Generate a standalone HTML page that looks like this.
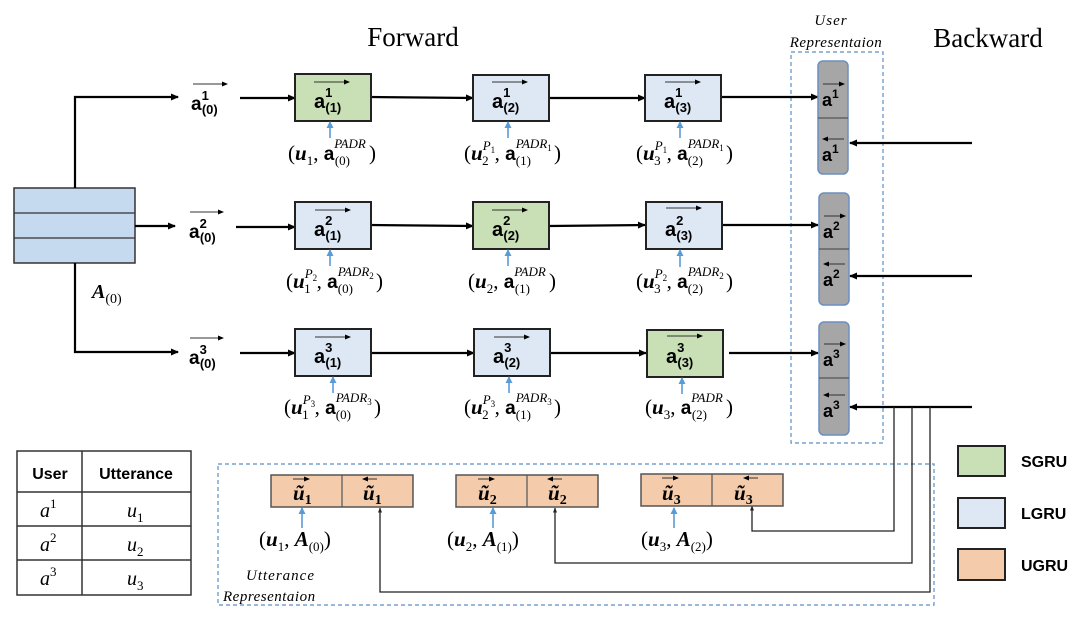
<!DOCTYPE html>
<html><head><meta charset="utf-8"><style>
body{margin:0;background:#fff}
svg{display:block}
.s{font-family:"Liberation Serif",serif}
.b{font-family:"Liberation Sans",sans-serif;font-weight:bold}
</style></head><body>
<svg width="1080" height="617" viewBox="0 0 1080 617" xmlns="http://www.w3.org/2000/svg">
<defs>
<marker id="ah" markerWidth="8" markerHeight="8" refX="7" refY="4" orient="auto" markerUnits="userSpaceOnUse"><path d="M0,0.5 L8,4 L0,7.5z" fill="#000"/></marker>
<marker id="as" markerWidth="6" markerHeight="6" refX="5" refY="3" orient="auto" markerUnits="userSpaceOnUse"><path d="M0,0.5 L6,3 L0,5.5z" fill="#000"/></marker>
<marker id="ab" markerWidth="7" markerHeight="7" refX="6" refY="3.5" orient="auto" markerUnits="userSpaceOnUse"><path d="M0,0 L7,3.5 L0,7z" fill="#5b9bd5"/></marker>
<marker id="sm" markerWidth="5" markerHeight="5" refX="4.5" refY="2.5" orient="auto" markerUnits="userSpaceOnUse"><path d="M0,0.5 L5,2.5 L0,4.5z" fill="#222"/></marker>
</defs>

<text x="413" y="46" class="s" font-size="27" text-anchor="middle">Forward</text>
<text x="988" y="47" class="s" font-size="27" text-anchor="middle">Backward</text>
<text x="831" y="25" class="s" font-size="15" font-style="italic" text-anchor="middle" letter-spacing="1">User</text>
<text x="836" y="47" class="s" font-size="15" font-style="italic" text-anchor="middle" letter-spacing="0.5">Representaion</text>

<rect x="791" y="52" width="92" height="391" fill="none" stroke="#5b8fc7" stroke-width="1.2" stroke-dasharray="4,3"/>
<rect x="218" y="464" width="716" height="141" fill="none" stroke="#5b8fc7" stroke-width="1.2" stroke-dasharray="4,3"/>

<rect x="14" y="188" width="121" height="75" fill="#c5d9ef" stroke="#333" stroke-width="1.5"/>
<line x1="14" y1="213" x2="135" y2="213" stroke="#333" stroke-width="1.2"/>
<line x1="14" y1="238" x2="135" y2="238" stroke="#333" stroke-width="1.2"/>
<text x="92" y="298" class="s" font-size="20" font-style="italic" font-weight="bold">A<tspan font-size="14" font-weight="normal" font-style="normal" dy="5">(0)</tspan></text>

<g stroke="#000" stroke-width="2.2" fill="none">
<polyline points="75,188 75,97 178,97" marker-end="url(#ah)"/>
<polyline points="135,226 175,226" marker-end="url(#ah)"/>
<polyline points="75,263 75,352 178,352" marker-end="url(#ah)"/>
<line x1="240" y1="98" x2="295" y2="98" marker-end="url(#ah)"/>
<line x1="236" y1="227" x2="295" y2="227" marker-end="url(#ah)"/>
<line x1="240" y1="353" x2="295" y2="353" marker-end="url(#ah)"/>
<line x1="371" y1="97" x2="473" y2="98" marker-end="url(#ah)"/>
<line x1="371" y1="225" x2="473" y2="226" marker-end="url(#ah)"/>
<line x1="371" y1="353" x2="474" y2="353" marker-end="url(#ah)"/>
<line x1="549" y1="98" x2="645" y2="98" marker-end="url(#ah)"/>
<line x1="549" y1="226" x2="645" y2="225" marker-end="url(#ah)"/>
<line x1="549" y1="353" x2="646" y2="353" marker-end="url(#ah)"/>
<line x1="721" y1="97" x2="818" y2="97" marker-end="url(#ah)"/>
<line x1="722" y1="225" x2="818" y2="225" marker-end="url(#ah)"/>
<line x1="729" y1="353" x2="818" y2="353" marker-end="url(#ah)"/>
<line x1="972" y1="143" x2="850" y2="143" marker-end="url(#ah)"/>
<line x1="972" y1="276" x2="850" y2="276" marker-end="url(#ah)"/>
<line x1="972" y1="407" x2="850" y2="407" marker-end="url(#ah)"/>
</g>
<g stroke="#222" stroke-width="1.3" fill="none">
<polyline points="894,407 894,531 752,531 752,506" marker-end="url(#sm)"/>
<polyline points="912,407 912,563 555,563 555,508" marker-end="url(#sm)"/>
<polyline points="930,407 930,592 380,592 380,508" marker-end="url(#sm)"/>
</g>

<g class="b" font-size="19">
<text x="191" y="110">a<tspan font-size="13" dy="-10">1</tspan><tspan font-size="13" dx="-7" dy="14">(0)</tspan></text>
<text x="189" y="238">a<tspan font-size="13" dy="-10">2</tspan><tspan font-size="13" dx="-7" dy="14">(0)</tspan></text>
<text x="189" y="364">a<tspan font-size="13" dy="-10">3</tspan><tspan font-size="13" dx="-7" dy="14">(0)</tspan></text>
</g>
<g stroke="#333" stroke-width="1" marker-end="url(#as)">
<line x1="193" y1="84" x2="227" y2="84"/>
<line x1="190" y1="212" x2="223" y2="212"/>
<line x1="190" y1="338" x2="223" y2="338"/>
</g>

<g stroke="#222" stroke-width="2">
<rect x="295" y="74" width="76" height="47" fill="#c9dfb6"/>
<rect x="473" y="75" width="76" height="46" fill="#dde8f4"/>
<rect x="645" y="75" width="76" height="46" fill="#dde8f4"/>
<rect x="295" y="202" width="76" height="47" fill="#dde8f4"/>
<rect x="473" y="202" width="76" height="47" fill="#c9dfb6"/>
<rect x="646" y="202" width="76" height="47" fill="#dde8f4"/>
<rect x="295" y="329" width="76" height="47" fill="#dde8f4"/>
<rect x="474" y="329" width="76" height="47" fill="#dde8f4"/>
<rect x="647" y="330" width="76" height="47" fill="#c9dfb6"/>
</g>
<g class="b" font-size="20">
<text x="314" y="108">a<tspan font-size="13" dy="-11">1</tspan><tspan font-size="13" dx="-7" dy="15">(1)</tspan></text>
<text x="492" y="108">a<tspan font-size="13" dy="-11">1</tspan><tspan font-size="13" dx="-7" dy="15">(2)</tspan></text>
<text x="664" y="108">a<tspan font-size="13" dy="-11">1</tspan><tspan font-size="13" dx="-7" dy="15">(3)</tspan></text>
<text x="314" y="236">a<tspan font-size="13" dy="-11">2</tspan><tspan font-size="13" dx="-7" dy="15">(1)</tspan></text>
<text x="492" y="236">a<tspan font-size="13" dy="-11">2</tspan><tspan font-size="13" dx="-7" dy="15">(2)</tspan></text>
<text x="665" y="236">a<tspan font-size="13" dy="-11">2</tspan><tspan font-size="13" dx="-7" dy="15">(3)</tspan></text>
<text x="314" y="363">a<tspan font-size="13" dy="-11">3</tspan><tspan font-size="13" dx="-7" dy="15">(1)</tspan></text>
<text x="493" y="363">a<tspan font-size="13" dy="-11">3</tspan><tspan font-size="13" dx="-7" dy="15">(2)</tspan></text>
<text x="666" y="363">a<tspan font-size="13" dy="-11">3</tspan><tspan font-size="13" dx="-7" dy="15">(3)</tspan></text>
</g>
<g stroke="#333" stroke-width="1" marker-end="url(#as)">
<line x1="314" y1="82" x2="349" y2="82"/>
<line x1="492" y1="82" x2="527" y2="82"/>
<line x1="665" y1="82" x2="700" y2="82"/>
<line x1="315" y1="210" x2="350" y2="210"/>
<line x1="492" y1="210" x2="527" y2="210"/>
<line x1="666" y1="208" x2="701" y2="208"/>
<line x1="315" y1="337" x2="350" y2="337"/>
<line x1="494" y1="337" x2="529" y2="337"/>
<line x1="667" y1="336" x2="702" y2="336"/>
</g>

<g stroke="#5b9bd5" stroke-width="1.6" marker-end="url(#ab)">
<line x1="330" y1="138" x2="330" y2="122"/>
<line x1="508" y1="138" x2="508" y2="122"/>
<line x1="680" y1="138" x2="680" y2="122"/>
<line x1="330" y1="266" x2="330" y2="250"/>
<line x1="508" y1="266" x2="508" y2="250"/>
<line x1="680" y1="267" x2="680" y2="250"/>
<line x1="333" y1="393" x2="333" y2="377"/>
<line x1="509" y1="393" x2="509" y2="377"/>
<line x1="682" y1="394" x2="682" y2="378"/>
<line x1="302" y1="528" x2="302" y2="508"/>
<line x1="493" y1="528" x2="493" y2="508"/>
<line x1="674" y1="528" x2="674" y2="508"/>
</g>

<g class="s" font-size="21">
<text x="288" y="160">(<tspan font-weight="bold" font-style="italic">u</tspan><tspan font-size="13" dy="5">1</tspan><tspan dy="-5">, </tspan><tspan class="b" font-size="19">a</tspan><tspan font-size="13" font-style="italic" dy="-12">PADR</tspan><tspan font-size="13" dx="-31" dy="17">(0)</tspan><tspan dx="19" dy="-5">)</tspan></text>
<text x="464" y="160">(<tspan font-weight="bold" font-style="italic">u</tspan><tspan font-size="13" font-style="italic" dy="-10">P</tspan><tspan font-size="9" dy="3">1</tspan><tspan font-size="13" dx="-13" dy="12">2</tspan><tspan dx="6" dy="-5">, </tspan><tspan class="b" font-size="19">a</tspan><tspan font-size="13" font-style="italic" dy="-12">PADR</tspan><tspan font-size="9" dy="3">1</tspan><tspan font-size="13" dx="-36" dy="14">(1)</tspan><tspan dx="23" dy="-5">)</tspan></text>
<text x="636" y="160">(<tspan font-weight="bold" font-style="italic">u</tspan><tspan font-size="13" font-style="italic" dy="-10">P</tspan><tspan font-size="9" dy="3">1</tspan><tspan font-size="13" dx="-13" dy="12">3</tspan><tspan dx="6" dy="-5">, </tspan><tspan class="b" font-size="19">a</tspan><tspan font-size="13" font-style="italic" dy="-12">PADR</tspan><tspan font-size="9" dy="3">1</tspan><tspan font-size="13" dx="-36" dy="14">(2)</tspan><tspan dx="23" dy="-5">)</tspan></text>

<text x="286" y="288">(<tspan font-weight="bold" font-style="italic">u</tspan><tspan font-size="13" font-style="italic" dy="-10">P</tspan><tspan font-size="9" dy="3">2</tspan><tspan font-size="13" dx="-13" dy="12">1</tspan><tspan dx="6" dy="-5">, </tspan><tspan class="b" font-size="19">a</tspan><tspan font-size="13" font-style="italic" dy="-12">PADR</tspan><tspan font-size="9" dy="3">2</tspan><tspan font-size="13" dx="-36" dy="14">(0)</tspan><tspan dx="23" dy="-5">)</tspan></text>
<text x="468" y="288">(<tspan font-weight="bold" font-style="italic">u</tspan><tspan font-size="13" dy="5">2</tspan><tspan dy="-5">, </tspan><tspan class="b" font-size="19">a</tspan><tspan font-size="13" font-style="italic" dy="-12">PADR</tspan><tspan font-size="13" dx="-31" dy="17">(1)</tspan><tspan dx="19" dy="-5">)</tspan></text>
<text x="636" y="288">(<tspan font-weight="bold" font-style="italic">u</tspan><tspan font-size="13" font-style="italic" dy="-10">P</tspan><tspan font-size="9" dy="3">2</tspan><tspan font-size="13" dx="-13" dy="12">3</tspan><tspan dx="6" dy="-5">, </tspan><tspan class="b" font-size="19">a</tspan><tspan font-size="13" font-style="italic" dy="-12">PADR</tspan><tspan font-size="9" dy="3">2</tspan><tspan font-size="13" dx="-36" dy="14">(2)</tspan><tspan dx="23" dy="-5">)</tspan></text>

<text x="284" y="414">(<tspan font-weight="bold" font-style="italic">u</tspan><tspan font-size="13" font-style="italic" dy="-10">P</tspan><tspan font-size="9" dy="3">3</tspan><tspan font-size="13" dx="-13" dy="12">1</tspan><tspan dx="6" dy="-5">, </tspan><tspan class="b" font-size="19">a</tspan><tspan font-size="13" font-style="italic" dy="-12">PADR</tspan><tspan font-size="9" dy="3">3</tspan><tspan font-size="13" dx="-36" dy="14">(0)</tspan><tspan dx="23" dy="-5">)</tspan></text>
<text x="464" y="414">(<tspan font-weight="bold" font-style="italic">u</tspan><tspan font-size="13" font-style="italic" dy="-10">P</tspan><tspan font-size="9" dy="3">3</tspan><tspan font-size="13" dx="-13" dy="12">2</tspan><tspan dx="6" dy="-5">, </tspan><tspan class="b" font-size="19">a</tspan><tspan font-size="13" font-style="italic" dy="-12">PADR</tspan><tspan font-size="9" dy="3">3</tspan><tspan font-size="13" dx="-36" dy="14">(1)</tspan><tspan dx="23" dy="-5">)</tspan></text>
<text x="645" y="414">(<tspan font-weight="bold" font-style="italic">u</tspan><tspan font-size="13" dy="5">3</tspan><tspan dy="-5">, </tspan><tspan class="b" font-size="19">a</tspan><tspan font-size="13" font-style="italic" dy="-12">PADR</tspan><tspan font-size="13" dx="-31" dy="17">(2)</tspan><tspan dx="19" dy="-5">)</tspan></text>
</g>

<g stroke="#6a8fc0" stroke-width="1.5" fill="#a6a6a6">
<rect x="818" y="61" width="30" height="113" rx="5"/>
<rect x="819" y="193" width="30" height="112" rx="5"/>
<rect x="819" y="322" width="30" height="113" rx="5"/>
</g>
<g stroke="#555" stroke-width="1.2">
<line x1="818" y1="118" x2="848" y2="118"/>
<line x1="819" y1="249" x2="849" y2="249"/>
<line x1="819" y1="378" x2="849" y2="378"/>
</g>
<g class="b" font-size="18">
<text x="822" y="106">a<tspan font-size="12" dy="-8">1</tspan></text>
<text x="822" y="161">a<tspan font-size="12" dy="-8">1</tspan></text>
<text x="823" y="238">a<tspan font-size="12" dy="-8">2</tspan></text>
<text x="823" y="286">a<tspan font-size="12" dy="-8">2</tspan></text>
<text x="823" y="366">a<tspan font-size="12" dy="-8">3</tspan></text>
<text x="823" y="417">a<tspan font-size="12" dy="-8">3</tspan></text>
</g>
<g stroke="#333" stroke-width="1">
<line x1="823" y1="84" x2="844" y2="84" marker-end="url(#as)"/>
<line x1="844" y1="139" x2="823" y2="139" marker-end="url(#as)"/>
<line x1="824" y1="216" x2="845" y2="216" marker-end="url(#as)"/>
<line x1="845" y1="264" x2="824" y2="264" marker-end="url(#as)"/>
<line x1="824" y1="344" x2="845" y2="344" marker-end="url(#as)"/>
<line x1="845" y1="395" x2="824" y2="395" marker-end="url(#as)"/>
</g>

<g stroke="#555" stroke-width="1.5" fill="#f4cbab">
<rect x="271" y="475" width="142" height="32"/>
<rect x="456" y="475" width="142" height="32"/>
<rect x="641" y="474" width="142" height="32"/>
</g>
<g stroke="#555" stroke-width="1.2">
<line x1="342" y1="475" x2="342" y2="507"/>
<line x1="527" y1="475" x2="527" y2="507"/>
<line x1="712" y1="474" x2="712" y2="506"/>
</g>
<g class="s" font-size="21" font-weight="bold" font-style="italic">
<text x="293" y="500">ũ<tspan font-size="14" font-style="normal" dy="4">1</tspan></text>
<text x="363" y="500">ũ<tspan font-size="14" font-style="normal" dy="4">1</tspan></text>
<text x="478" y="500">ũ<tspan font-size="14" font-style="normal" dy="4">2</tspan></text>
<text x="548" y="500">ũ<tspan font-size="14" font-style="normal" dy="4">2</tspan></text>
<text x="662" y="500">ũ<tspan font-size="14" font-style="normal" dy="4">3</tspan></text>
<text x="734" y="500">ũ<tspan font-size="14" font-style="normal" dy="4">3</tspan></text>
</g>
<g stroke="#333" stroke-width="1">
<line x1="293" y1="479" x2="309" y2="479" marker-end="url(#as)"/>
<line x1="377" y1="479" x2="363" y2="479" marker-end="url(#as)"/>
<line x1="478" y1="479" x2="494" y2="479" marker-end="url(#as)"/>
<line x1="562" y1="479" x2="548" y2="479" marker-end="url(#as)"/>
<line x1="662" y1="478" x2="678" y2="478" marker-end="url(#as)"/>
<line x1="758" y1="478" x2="744" y2="478" marker-end="url(#as)"/>
</g>
<g class="s" font-size="21">
<text x="259" y="546">(<tspan font-weight="bold" font-style="italic">u</tspan><tspan font-size="13" dy="5">1</tspan><tspan dy="-5">, </tspan><tspan font-weight="bold" font-style="italic">A</tspan><tspan font-size="13" dy="5">(0)</tspan><tspan dy="-5">)</tspan></text>
<text x="447" y="546">(<tspan font-weight="bold" font-style="italic">u</tspan><tspan font-size="13" dy="5">2</tspan><tspan dy="-5">, </tspan><tspan font-weight="bold" font-style="italic">A</tspan><tspan font-size="13" dy="5">(1)</tspan><tspan dy="-5">)</tspan></text>
<text x="641" y="546">(<tspan font-weight="bold" font-style="italic">u</tspan><tspan font-size="13" dy="5">3</tspan><tspan dy="-5">, </tspan><tspan font-weight="bold" font-style="italic">A</tspan><tspan font-size="13" dy="5">(2)</tspan><tspan dy="-5">)</tspan></text>
</g>
<text x="246" y="580" class="s" font-size="15" font-style="italic" letter-spacing="1">Utterance</text>
<text x="223" y="601" class="s" font-size="15" font-style="italic" letter-spacing="0.5">Representaion</text>

<g stroke="#333" stroke-width="1.5" fill="none">
<rect x="17" y="451" width="174" height="144"/>
<line x1="82" y1="451" x2="82" y2="595"/>
<line x1="17" y1="492" x2="191" y2="492"/>
<line x1="17" y1="526" x2="191" y2="526"/>
<line x1="17" y1="560" x2="191" y2="560"/>
</g>
<text x="50" y="479" class="b" font-size="16" text-anchor="middle">User</text>
<text x="136" y="479" class="b" font-size="16" text-anchor="middle">Utterance</text>
<g class="s" font-size="20" font-style="italic">
<text x="40" y="517">a<tspan font-size="13" font-style="normal" dy="-9">1</tspan></text>
<text x="40" y="551">a<tspan font-size="13" font-style="normal" dy="-9">2</tspan></text>
<text x="40" y="585">a<tspan font-size="13" font-style="normal" dy="-9">3</tspan></text>
<text x="127" y="517">u<tspan font-size="13" font-style="normal" dy="5">1</tspan></text>
<text x="127" y="551">u<tspan font-size="13" font-style="normal" dy="5">2</tspan></text>
<text x="127" y="585">u<tspan font-size="13" font-style="normal" dy="5">3</tspan></text>
</g>

<g stroke="#222" stroke-width="2">
<rect x="958" y="446" width="47" height="30" fill="#c9dfb6"/>
<rect x="958" y="498" width="47" height="30" fill="#dde8f4"/>
<rect x="958" y="549" width="47" height="31" fill="#f4cbab"/>
</g>
<g class="b" font-size="16">
<text x="1021" y="467">SGRU</text>
<text x="1021" y="519">LGRU</text>
<text x="1021" y="571">UGRU</text>
</g>
</svg>
</body></html>
